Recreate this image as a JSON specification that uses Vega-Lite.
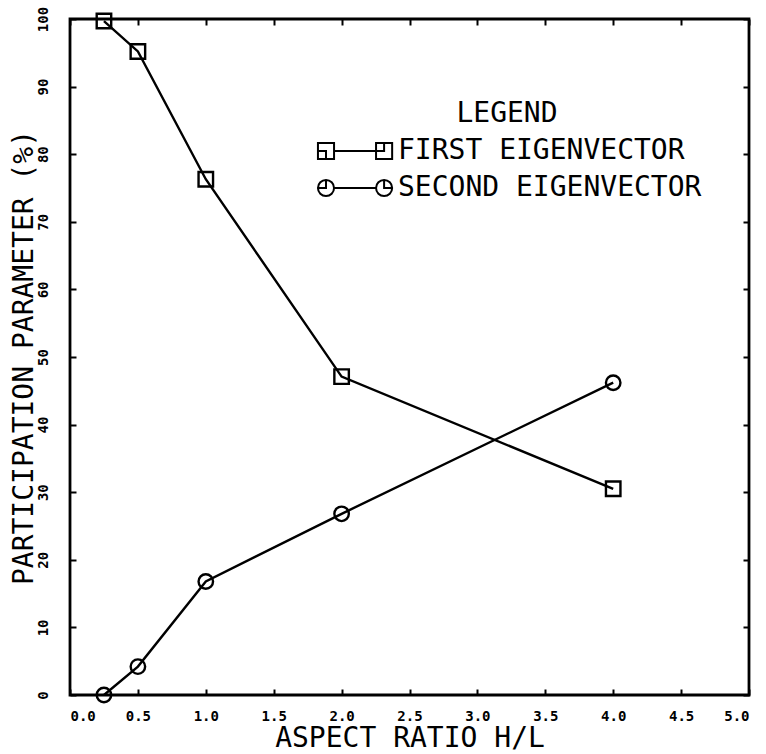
{
  "$schema": "https://vega.github.io/schema/vega-lite/v6.json",
  "width": 679,
  "height": 676,
  "autosize": {"type": "none"},
  "padding": {"left": 70, "top": 19, "right": 17, "bottom": 59},
  "background": "white",
  "config": {
    "view": {"stroke": "black", "strokeWidth": 2.8},
    "axis": {"grid": false, "domain": false, "tickColor": "black", "tickWidth": 2, "labelColor": "black", "titleColor": "black"}
  },
  "data": {
    "values": [
      {"ratio": 0.25, "pp": 99.7, "series": "FIRST EIGENVECTOR"},
      {"ratio": 0.5, "pp": 95.2, "series": "FIRST EIGENVECTOR"},
      {"ratio": 1.0, "pp": 76.3, "series": "FIRST EIGENVECTOR"},
      {"ratio": 2.0, "pp": 47.1, "series": "FIRST EIGENVECTOR"},
      {"ratio": 4.0, "pp": 30.5, "series": "FIRST EIGENVECTOR"},
      {"ratio": 0.25, "pp": 0.0, "series": "SECOND EIGENVECTOR"},
      {"ratio": 0.5, "pp": 4.2, "series": "SECOND EIGENVECTOR"},
      {"ratio": 1.0, "pp": 16.8, "series": "SECOND EIGENVECTOR"},
      {"ratio": 2.0, "pp": 26.8, "series": "SECOND EIGENVECTOR"},
      {"ratio": 4.0, "pp": 46.2, "series": "SECOND EIGENVECTOR"}
    ]
  },
  "resolve": {"axis": {"x": "independent", "y": "independent"}, "scale": {"shape": "independent"}},
  "layer": [
    {
      "mark": {"type": "line", "color": "black", "strokeWidth": 2.4},
      "encoding": {
        "x": {
          "field": "ratio", "type": "quantitative",
          "scale": {"domain": [0, 5], "nice": false, "zero": false},
          "axis": {
            "orient": "bottom", "title": "ASPECT RATIO H/L",
            "values": [0, 0.5, 1, 1.5, 2, 2.5, 3, 3.5, 4, 4.5, 5],
            "format": ".1f", "tickSize": -6, "labelPadding": 20,
            "labelFont": "DejaVu Sans Mono", "labelFontWeight": "bold", "labelFontSize": 14,
            "titleFont": "DejaVu Sans Mono", "titleFontWeight": "normal", "titleFontSize": 28,
            "titlePadding": 1
          }
        },
        "y": {
          "field": "pp", "type": "quantitative",
          "scale": {"domain": [0, 100], "nice": false},
          "axis": {
            "orient": "left", "title": "PARTICIPATION PARAMETER (%)",
            "values": [0, 10, 20, 30, 40, 50, 60, 70, 80, 90, 100],
            "tickSize": -6, "labelAngle": -90, "labelAlign": "center", "labelBaseline": "middle",
            "labelPadding": 33,
            "labelFont": "DejaVu Sans Mono", "labelFontWeight": "bold", "labelFontSize": 14,
            "titleFont": "DejaVu Sans Mono", "titleFontWeight": "normal", "titleFontSize": 28,
            "titlePadding": -2
          }
        },
        "detail": {"field": "series"}
      }
    },
    {
      "mark": {"type": "point", "filled": false, "color": "black", "strokeWidth": 2.4, "size": 210, "opacity": 1},
      "encoding": {
        "x": {
          "field": "ratio", "type": "quantitative",
          "axis": {"orient": "top", "title": null, "labels": false, "tickSize": -6,
                   "values": [0, 0.5, 1, 1.5, 2, 2.5, 3, 3.5, 4, 4.5, 5]}
        },
        "y": {
          "field": "pp", "type": "quantitative",
          "axis": {"orient": "right", "title": null, "labels": false, "tickSize": -6,
                   "values": [0, 10, 20, 30, 40, 50, 60, 70, 80, 90, 100]}
        },
        "shape": {
          "field": "series", "type": "nominal",
          "scale": {"domain": ["FIRST EIGENVECTOR", "SECOND EIGENVECTOR"], "range": ["square", "circle"]},
          "legend": null
        }
      }
    },
    {
      "mark": {"type": "point", "filled": false, "color": "black", "strokeWidth": 2, "opacity": 0},
      "encoding": {
        "x": {"field": "ratio", "type": "quantitative", "axis": null},
        "y": {"field": "pp", "type": "quantitative", "axis": null},
        "shape": {
          "field": "series", "type": "nominal",
          "scale": {
            "domain": ["FIRST EIGENVECTOR", "SECOND EIGENVECTOR"],
            "range": [
              "M-1.15,-1.15H1.15V1.15H-1.15ZM-1.15,0H0V1.15M1.15,0H7.15M7.15,-1.15H9.45V1.15H7.15ZM8.3,-1.15V0H7.15",
              "M1.15,0A1.15,1.15,0,1,1,-1.15,0A1.15,1.15,0,1,1,1.15,0ZM-1.15,0H0V-1.15M1.15,0H7.15M9.45,0A1.15,1.15,0,1,1,7.15,0A1.15,1.15,0,1,1,9.45,0ZM8.3,-1.15V0H9.45"
            ]
          },
          "legend": {
            "orient": "none", "legendX": 242, "legendY": 81,
            "title": "LEGEND", "titleAnchor": "middle", "titleFont": "DejaVu Sans Mono",
            "titleFontWeight": "normal", "titleFontSize": 28, "titleColor": "black", "titlePadding": 9,
            "labelFont": "DejaVu Sans Mono", "labelFontSize": 28, "labelColor": "black",
            "labelOffset": 58, "symbolSize": 196, "symbolStrokeColor": "black", "symbolStrokeWidth": 2,
            "symbolFillColor": "transparent", "symbolOpacity": 1, "rowPadding": 9, "labelLimit": 400,
            "encode": {"title": {"update": {"dx": {"value": 6}}}}
          }
        }
      }
    }
  ]
}
